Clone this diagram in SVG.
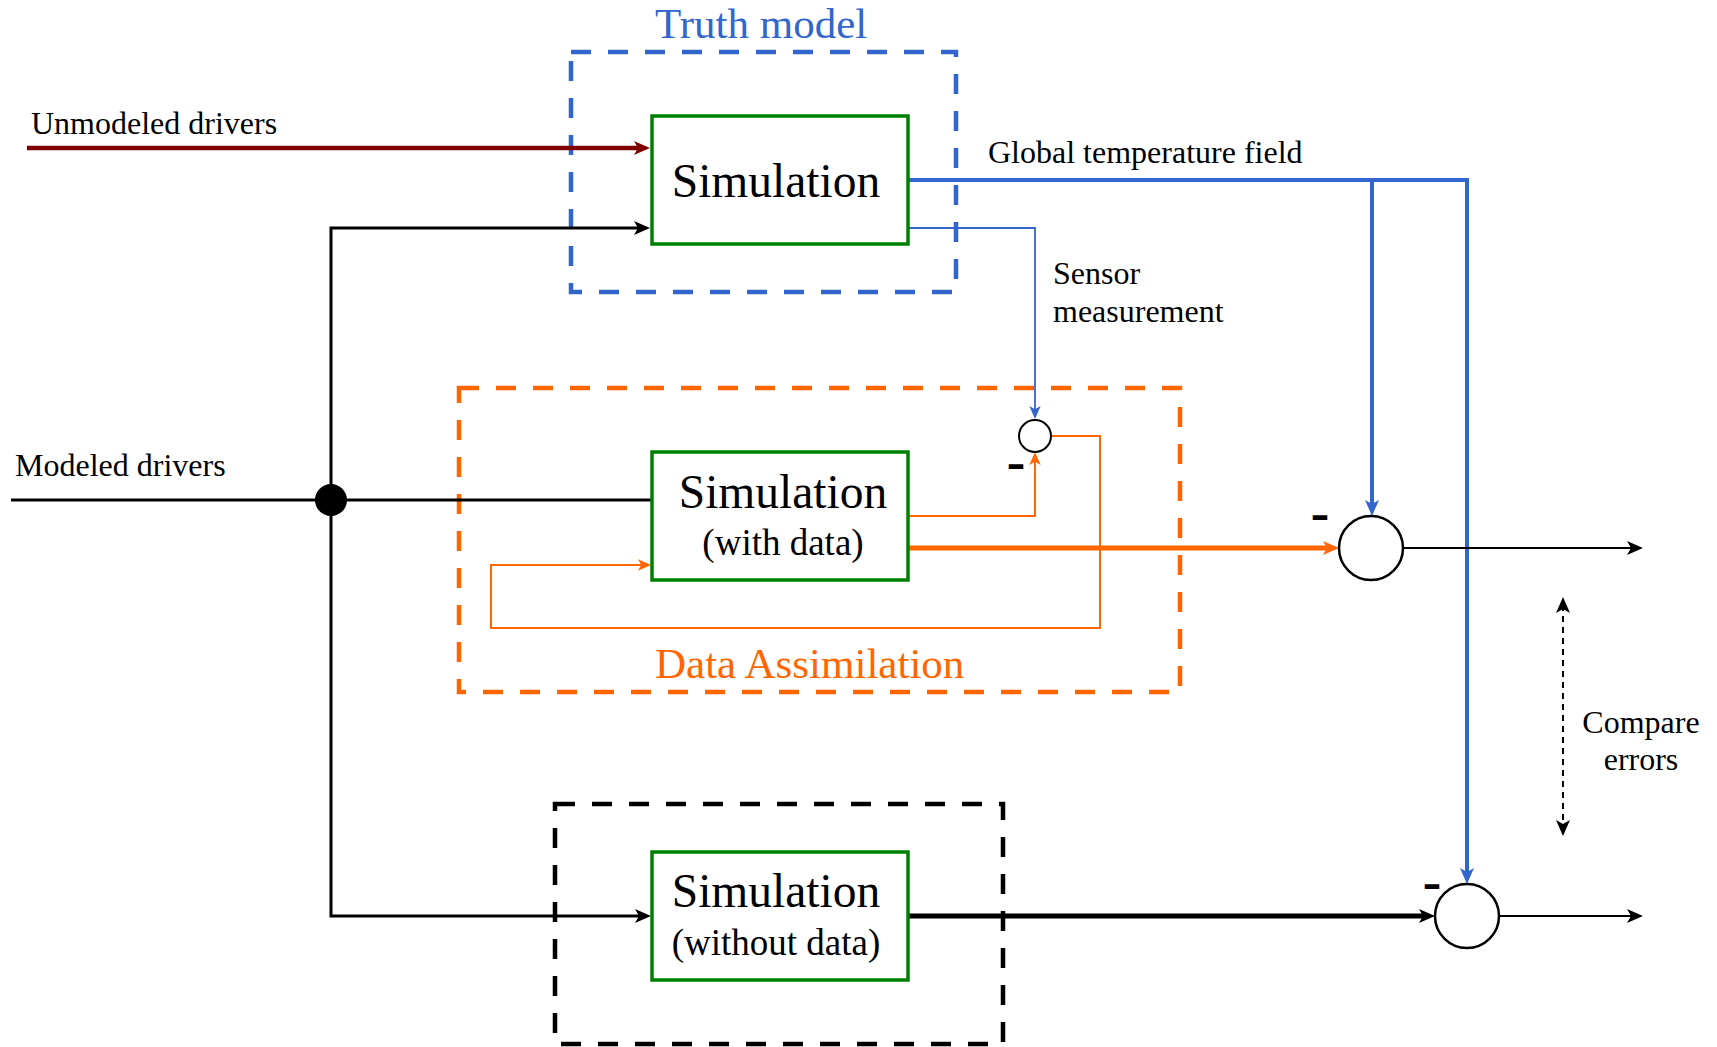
<svg xmlns="http://www.w3.org/2000/svg" width="1717" height="1047" viewBox="0 0 1717 1047">
<style>
  text { font-family: "Liberation Serif", "Times New Roman", serif; fill: #000; }
  .lbl { font-size: 32px; }
  .title { font-size: 47.5px; }
  .sub { font-size: 37px; }
  .big { font-size: 43px; }
  .minus { font-family: "Liberation Sans", Arial, sans-serif; font-weight: bold; font-size: 40px; }
  .sim { fill: #fff; stroke: #008000; stroke-width: 3.5; }
  .dash { fill: none; stroke-width: 4.5; stroke-dasharray: 20 17; }
  .sum { fill: #fff; stroke: #000; stroke-width: 2.5; }
  .ln { fill: none; }
</style>
<defs>
  <marker id="ah-black" viewBox="0 0 16 14" refX="8" refY="7" markerWidth="16" markerHeight="14" markerUnits="userSpaceOnUse" orient="auto-start-reverse"><path d="M0,0 L16,7 L0,14 L4,7 Z" fill="#000"/></marker>
  <marker id="ah-blue" viewBox="0 0 16 14" refX="8" refY="7" markerWidth="16" markerHeight="14" markerUnits="userSpaceOnUse" orient="auto"><path d="M0,0 L16,7 L0,14 L4,7 Z" fill="#3366CC"/></marker>
  <marker id="ah-blue-s" viewBox="0 0 16 14" refX="8" refY="7" markerWidth="13" markerHeight="11.375" markerUnits="userSpaceOnUse" orient="auto"><path d="M0,0 L16,7 L0,14 L4,7 Z" fill="#3366CC"/></marker>
  <marker id="ah-orange" viewBox="0 0 16 14" refX="8" refY="7" markerWidth="16" markerHeight="14" markerUnits="userSpaceOnUse" orient="auto"><path d="M0,0 L16,7 L0,14 L4,7 Z" fill="#FF6600"/></marker>
  <marker id="ah-orange-s" viewBox="0 0 16 14" refX="8" refY="7" markerWidth="13" markerHeight="11.375" markerUnits="userSpaceOnUse" orient="auto"><path d="M0,0 L16,7 L0,14 L4,7 Z" fill="#FF6600"/></marker>
  <marker id="ah-red" viewBox="0 0 16 14" refX="8" refY="7" markerWidth="16" markerHeight="14" markerUnits="userSpaceOnUse" orient="auto"><path d="M0,0 L16,7 L0,14 L4,7 Z" fill="#800000"/></marker>
</defs>
<rect width="1717" height="1047" fill="#fff"/>

<g id="truth-model">
  <rect class="dash" x="571" y="52" width="385" height="240" stroke="#3366CC"/>
  <text class="big" x="655" y="38" style="fill:#3366CC">Truth model</text>
</g>
<g id="data-assimilation">
  <rect class="dash" x="459" y="388" width="721" height="304" stroke="#FF6600"/>
  <text class="big" x="655" y="678" style="fill:#FF6600">Data Assimilation</text>
</g>
<g id="no-data-group">
  <rect class="dash" x="555" y="804" width="448" height="240" stroke="#000"/>
</g>

<g id="connectors">
  <path class="ln" d="M27,148 H642" stroke="#800000" stroke-width="4.5" marker-end="url(#ah-red)"/>
  <path class="ln" d="M11,500 H652" stroke="#000" stroke-width="3"/>
  <path class="ln" d="M331,500 V228 H642" stroke="#000" stroke-width="3" marker-end="url(#ah-black)"/>
  <path class="ln" d="M331,500 V916 H643" stroke="#000" stroke-width="3" marker-end="url(#ah-black)"/>
  <path class="ln" d="M908,228 H1035 V412.5" stroke="#3366CC" stroke-width="1.8" marker-end="url(#ah-blue-s)"/>
  <path class="ln" d="M908,516 H1035 V458.5" stroke="#FF6600" stroke-width="2" marker-end="url(#ah-orange-s)"/>
  <path class="ln" d="M1051,436 H1100 V628 H491 V565 H644.5" stroke="#FF6600" stroke-width="2" marker-end="url(#ah-orange-s)"/>
  <path class="ln" d="M908,548 H1331" stroke="#FF6600" stroke-width="5" marker-end="url(#ah-orange)"/>
  <path class="ln" d="M908,180 H1467 V876" stroke="#3366CC" stroke-width="4" marker-end="url(#ah-blue)"/>
  <path class="ln" d="M1372,180 V508" stroke="#3366CC" stroke-width="4" marker-end="url(#ah-blue)"/>
  <path class="ln" d="M1403,548 H1635" stroke="#000" stroke-width="2" marker-end="url(#ah-black)"/>
  <path class="ln" d="M908,916 H1427" stroke="#000" stroke-width="5" marker-end="url(#ah-black)"/>
  <path class="ln" d="M1499,916 H1635" stroke="#000" stroke-width="2" marker-end="url(#ah-black)"/>
  <path class="ln" d="M1563,605 V828" stroke="#000" stroke-width="2" stroke-dasharray="6 5" marker-start="url(#ah-black)" marker-end="url(#ah-black)"/>
</g>

<g id="sim-truth">
  <rect class="sim" x="652" y="116" width="256" height="128"/>
  <text class="title" x="776" y="197" text-anchor="middle">Simulation</text>
</g>
<g id="sim-with-data">
  <rect class="sim" x="652" y="452" width="256" height="128"/>
  <text class="title" x="783" y="508" text-anchor="middle">Simulation</text>
  <text class="sub" x="783" y="555" text-anchor="middle">(with data)</text>
</g>
<g id="sim-without-data">
  <rect class="sim" x="652" y="852" width="256" height="128"/>
  <text class="title" x="776" y="907" text-anchor="middle">Simulation</text>
  <text class="sub" x="776" y="955" text-anchor="middle">(without data)</text>
</g>

<g id="junction"><circle cx="331" cy="500" r="16" fill="#000"/></g>
<g id="sum-sensor">
  <circle class="sum" cx="1035" cy="436" r="16" style="stroke-width:2"/>
  <text class="minus" x="1006.5" y="477" textLength="19" lengthAdjust="spacingAndGlyphs">-</text>
</g>
<g id="sum-with-data">
  <circle class="sum" cx="1371" cy="548" r="32"/>
  <text class="minus" x="1310.5" y="528" textLength="19" lengthAdjust="spacingAndGlyphs">-</text>
</g>
<g id="sum-without-data">
  <circle class="sum" cx="1467" cy="916" r="32"/>
  <text class="minus" x="1422.5" y="897" textLength="19" lengthAdjust="spacingAndGlyphs">-</text>
</g>

<g id="labels">
  <text class="lbl" x="31" y="134">Unmodeled drivers</text>
  <text class="lbl" x="15" y="476">Modeled drivers</text>
  <text class="lbl" x="988" y="163">Global temperature field</text>
  <text class="lbl" x="1053" y="284">Sensor</text>
  <text class="lbl" x="1053" y="322">measurement</text>
  <text class="lbl" x="1641" y="733" text-anchor="middle">Compare</text>
  <text class="lbl" x="1641" y="770" text-anchor="middle">errors</text>
</g>
</svg>
